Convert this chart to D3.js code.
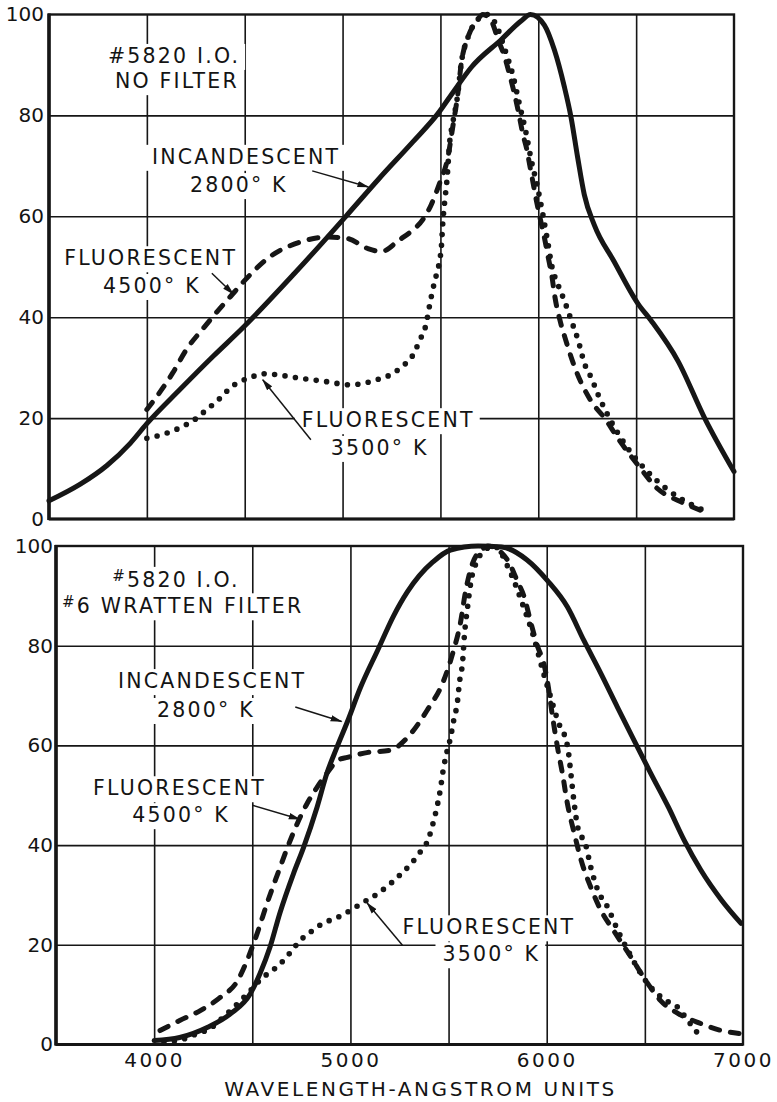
<!DOCTYPE html>
<html><head><meta charset="utf-8">
<script src="https://cdn.jsdelivr.net/npm/d3@7"></script>
<style>
body{margin:0;background:#fff;}
svg text{font-family:"DejaVu Sans",sans-serif;fill:#141414;}
</style></head><body>
<svg id="chart" width="777" height="1102"></svg>
<script>
// ---------------- DATA ----------------
const xDomain = [3500, 7000];
const yTickValues = [0, 20, 40, 60, 80, 100];
const xTickLabels = [4000, 5000, 6000, 7000];
const xGridValues = [4000, 4500, 5000, 5500, 6000, 6500];
const yGridValues = [20, 40, 60, 80];
const xAxisTitle = "WAVELENGTH-ANGSTROM UNITS";

// Upper chart: #5820 I.O., no filter  [wavelength, relative response]
const noFilterIncandescent = [[3500,3.6],[3660,6.9],[3796,10.6],[3915,15],[4000,18.9],[4170,25.7],[4340,32.3],[4493,38],[4750,48.5],[5017,60],[5187,67.5],[5358,74.7],[5486,80.3],[5572,85],[5657,89.5],[5810,95],[5912,98.7],[5960,100],[6031,97.9],[6082,93],[6133,85.7],[6167,79.7],[6201,71.7],[6235,64.3],[6286,58.3],[6388,51],[6509,42.7],[6577,39.3],[6714,31.3],[6850,20],[7000,9.4]];
const noFilterFluor4500 = [[4000,21.7],[4051,24.3],[4133,29],[4204,33.7],[4286,37.7],[4357,41],[4425,44],[4510,47.7],[4612,51.5],[4784,54.9],[4922,55.9],[5026,55.6],[5129,53.6],[5198,53],[5289,55.3],[5350,57],[5409,59.3],[5453,62.3],[5478,64.7],[5500,67],[5538,71.7],[5563,77.7],[5589,84.3],[5606,90.2],[5640,95.4],[5691,99],[5716,100],[5760,98.7],[5795,95],[5829,91.5],[5854,88],[5880,84],[5897,81],[5923,76],[5940,73.5],[5957,70],[5974,66.5],[5991,63],[6010,59.5],[6030,56],[6050,52],[6070,48],[6085,44],[6110,39.5],[6136,36],[6187,30],[6271,23.3],[6339,20],[6407,16],[6509,10.7],[6610,6],[6729,3.4],[6831,1.7]];
const noFilterFluor3500 = [[4000,16],[4100,17],[4200,18.7],[4255,20],[4306,21.7],[4357,23.3],[4408,25.3],[4450,26.7],[4520,27.9],[4600,28.8],[4700,28.4],[4800,27.8],[4905,27.3],[5040,26.6],[5120,27],[5190,27.8],[5240,28.5],[5307,30.3],[5358,32.4],[5395,35.5],[5426,38.5],[5443,42],[5461,45.5],[5480,48.5],[5495,51],[5505,54],[5512,58.6],[5522,63],[5533,67],[5548,75],[5563,78.5],[5589,84.3],[5606,90.2],[5640,95.4],[5691,99],[5740,100],[5790,97.5],[5830,93],[5870,88],[5905,82],[5935,77],[5965,71],[5995,66],[6025,60],[6048,55],[6070,50],[6100,46.5],[6136,43],[6169,39.3],[6203,35.5],[6237,30.7],[6271,28],[6305,24.7],[6373,19.3],[6458,14],[6576,8.7],[6729,4],[6840,1.8]];

// Lower chart: #5820 I.O., #6 Wratten filter
const wrattenIncandescent = [[4000,0.8],[4130,1.4],[4270,3.4],[4390,6.2],[4490,10.2],[4540,14.3],[4590,19.5],[4640,26.3],[4710,34.3],[4760,39.4],[4830,47.6],[4880,54.4],[4930,59.5],[4985,64.8],[5050,71.5],[5140,79.2],[5220,86],[5290,90.8],[5350,94],[5420,96.8],[5510,99.2],[5650,100],[5770,99.8],[5900,97.2],[6005,93],[6105,87.8],[6190,81],[6275,74.5],[6360,67.7],[6445,61],[6530,54.4],[6620,47.6],[6700,41],[6785,35],[6890,29],[6990,24.3]];
const wrattenFluor4500 = [[4030,2.8],[4130,4.8],[4235,6.8],[4335,9.4],[4425,12.8],[4480,17.5],[4525,22.3],[4575,28.3],[4630,34.3],[4680,39.6],[4730,44.4],[4780,48.4],[4830,51.6],[4880,54.4],[4935,57],[4985,57.6],[5090,58.6],[5200,59],[5300,62],[5390,67],[5475,73],[5525,79],[5560,84.5],[5587,91],[5623,96.6],[5680,99.6],[5700,100],[5800,97.2],[5850,93],[5885,89.8],[5920,84.5],[5955,79.7],[5985,76.5],[6005,72.5],[6030,65.7],[6055,59.6],[6080,54.4],[6105,48.4],[6140,42.4],[6175,37],[6225,31.5],[6275,27],[6340,22.9],[6430,17.5],[6515,12.2],[6580,8.8],[6670,6.2],[6785,4.2],[6890,2.8],[6980,2.2]];
const wrattenFluor3500 = [[4050,0.5],[4150,1.1],[4220,2.2],[4285,3.2],[4350,5.4],[4425,8.2],[4490,10.8],[4555,13.5],[4605,14.9],[4660,16.9],[4695,18.5],[4745,20.9],[4795,22.5],[4860,24.3],[4935,25.5],[5000,26.9],[5065,28.5],[5140,30.3],[5205,32.3],[5260,34.3],[5310,36.3],[5355,38.6],[5395,41],[5425,45],[5445,48.4],[5460,51.6],[5470,54.4],[5485,57.6],[5510,61.6],[5526,65],[5546,69],[5555,72.5],[5572,77],[5580,81.7],[5597,87.8],[5613,92.6],[5648,97.2],[5700,99.6],[5730,100],[5816,94.6],[5880,88],[5934,81.7],[5980,75],[6020,69.7],[6056,65],[6107,59.6],[6123,54.4],[6138,49],[6158,43.6],[6199,40],[6225,35.5],[6260,31],[6311,27.5],[6362,22.9],[6413,18.9],[6515,12.2],[6600,9],[6669,7.4],[6719,4.8],[6786,1.4]];

// Annotation texts (anchored in data units: wavelength, response)
const noFilterLabels = [
  {t:"#5820 I.O.", wl:3801, v:90.4},
  {t:"NO FILTER", wl:3837, v:85.4},
  {t:"INCANDESCENT", wl:4026, v:70.4},
  {t:"2800° K", wl:4220, v:64.8},
  {t:"FLUORESCENT", wl:3578, v:50.3},
  {t:"4500° K", wl:3776, v:44.8},
  {t:"FLUORESCENT", wl:4792, v:18.2},
  {t:"3500° K", wl:4940, v:12.7}
];
const noFilterArrows = [
  [[4845,69],[5132,65.8]],
  [[4332,48.7],[4442,44.6]],
  [[4838,15.7],[4592,27.6]]
];
const wrattenLabels = [
  {t:"#5820 I.O.", wl:3786, v:91.8, smallHash:true},
  {t:"#6 WRATTEN FILTER", wl:3531, v:86.5, smallHash:true},
  {t:"INCANDESCENT", wl:3816, v:71.5},
  {t:"2800° K", wl:4015, v:65.7},
  {t:"FLUORESCENT", wl:3689, v:50},
  {t:"4500° K", wl:3888, v:44.6},
  {t:"FLUORESCENT", wl:5265, v:22.1},
  {t:"3500° K", wl:5469, v:16.7}
];
const wrattenArrows = [
  [[4719,67.7],[4955,64.8]],
  [[4500,48],[4742,45.2]],
  [[5265,19.9],[5085,28.4]]
];

// ---------------- DRAWING ----------------
const svg = d3.select("#chart");
svg.append("rect").attr("width",777).attr("height",1102).attr("fill","#fff");
const defs = svg.append("defs");
defs.append("marker").attr("id","ah").attr("viewBox","0 0 12 8")
  .attr("refX",11).attr("refY",4).attr("markerWidth",12).attr("markerHeight",8)
  .attr("markerUnits","userSpaceOnUse").attr("orient","auto")
  .append("path").attr("d","M0,0.8 L12,4 L0,7.2 Z").attr("fill","#141414");

const INK = "#161616";

function drawPanel(box, series, labels, arrows, tickPad, showX){
  const x = d3.scaleLinear().domain(xDomain).range([box.left, box.right]);
  const y = d3.scaleLinear().domain([0,100]).range([box.bottom, box.top]);
  const W = box.right - box.left, H = box.bottom - box.top;

  const gridL = svg.append("g");
  const knockL = svg.append("g");
  const frameL = svg.append("g");
  const curveL = svg.append("g");
  const arrowL = svg.append("g");
  const textL = svg.append("g");

  gridL.append("g").attr("transform",`translate(0,${box.bottom})`)
    .call(d3.axisBottom(x).tickValues(xGridValues).tickSize(-H).tickFormat(""))
    .call(a=>a.select(".domain").remove())
    .call(a=>a.selectAll("line").attr("stroke",INK).attr("stroke-width",1.6));
  gridL.append("g").attr("transform",`translate(${box.left},0)`)
    .call(d3.axisLeft(y).tickValues(yGridValues).tickSize(-W).tickFormat(""))
    .call(a=>a.select(".domain").remove())
    .call(a=>a.selectAll("line").attr("stroke",INK).attr("stroke-width",1.6));

  // frame
  frameL.append("rect").attr("x",box.left).attr("y",box.top).attr("width",W).attr("height",H)
    .attr("fill","none").attr("stroke",INK).attr("stroke-width",2.4);
  frameL.append("line").attr("x1",box.left).attr("x2",box.left).attr("y1",box.top-1).attr("y2",box.bottom+1)
    .attr("stroke",INK).attr("stroke-width",3.6);
  frameL.append("line").attr("x1",box.left).attr("x2",box.right).attr("y1",box.bottom).attr("y2",box.bottom)
    .attr("stroke",INK).attr("stroke-width",3);

  // y tick labels
  frameL.append("g").attr("transform",`translate(${box.left},0)`)
    .call(d3.axisLeft(y).tickValues(yTickValues).tickSize(0).tickPadding(tickPad))
    .call(a=>a.select(".domain").remove())
    .call(a=>a.selectAll("text").attr("font-size",20).attr("fill","#141414")
       .style("font-family","'DejaVu Sans',sans-serif"));

  if(showX){
    frameL.append("g").attr("transform",`translate(0,${box.bottom})`)
      .call(d3.axisBottom(x).tickValues(xTickLabels).tickSize(0).tickPadding(8).tickFormat(d3.format("d")))
      .call(a=>a.select(".domain").remove())
      .call(a=>a.selectAll("text").attr("font-size",20).attr("fill","#141414")
        .attr("letter-spacing",2.5).style("font-family","'DejaVu Sans',sans-serif"));
    frameL.append("text").attr("x",(x(5000)+x(6000))/2 - 28).attr("y",box.bottom+51)
      .attr("text-anchor","middle").attr("font-size",20).attr("letter-spacing",2.6)
      .text(xAxisTitle);
  }

  const line = d3.line().x(d=>x(d[0])).y(d=>y(d[1])).curve(d3.curveMonotoneX);
  // solid
  curveL.append("path").datum(series.inc).attr("d",line).attr("fill","none")
    .attr("stroke",INK).attr("stroke-width",5).attr("stroke-linejoin","round").attr("stroke-linecap","round");
  // dashed
  curveL.append("path").datum(series.f45).attr("d",line).attr("fill","none")
    .attr("stroke",INK).attr("stroke-width",5).attr("stroke-dasharray","9,11").attr("stroke-linecap","round");
  // dotted
  curveL.append("path").datum(series.f35).attr("d",line).attr("fill","none")
    .attr("stroke",INK).attr("stroke-width",5.6).attr("stroke-dasharray","0,10.5").attr("stroke-linecap","round");

  // arrows
  arrows.forEach(a=>{
    arrowL.append("line").attr("x1",x(a[0][0])).attr("y1",y(a[0][1]))
      .attr("x2",x(a[1][0])).attr("y2",y(a[1][1]))
      .attr("stroke",INK).attr("stroke-width",1.5).attr("marker-end","url(#ah)");
  });

  // labels
  labels.forEach(l=>{
    const t = textL.append("text").attr("x",x(l.wl)).attr("y",y(l.v))
      .attr("font-size",20.5).attr("letter-spacing",2.2);
    let s = l.t;
    if(l.smallHash && s[0]==="#"){
      t.append("tspan").attr("font-size",15).attr("dy",-6).text("#");
      s = s.slice(1);
      t.append("tspan").attr("dy",6).text(s);
    } else {
      t.text(s);
    }
    const bb = t.node().getBBox();
    knockL.append("rect").attr("x",bb.x-7).attr("y",bb.y).attr("width",bb.width+12).attr("height",bb.height+2)
      .attr("fill","#fff");
  });
}

drawPanel({left:49, right:734, top:14.5, bottom:519},
  {inc:noFilterIncandescent, f45:noFilterFluor4500, f35:noFilterFluor3500},
  noFilterLabels, noFilterArrows, 5, false);
drawPanel({left:56, right:743, top:546, bottom:1044.5},
  {inc:wrattenIncandescent, f45:wrattenFluor4500, f35:wrattenFluor3500},
  wrattenLabels, wrattenArrows, 3, true);
</script>
</body></html>
